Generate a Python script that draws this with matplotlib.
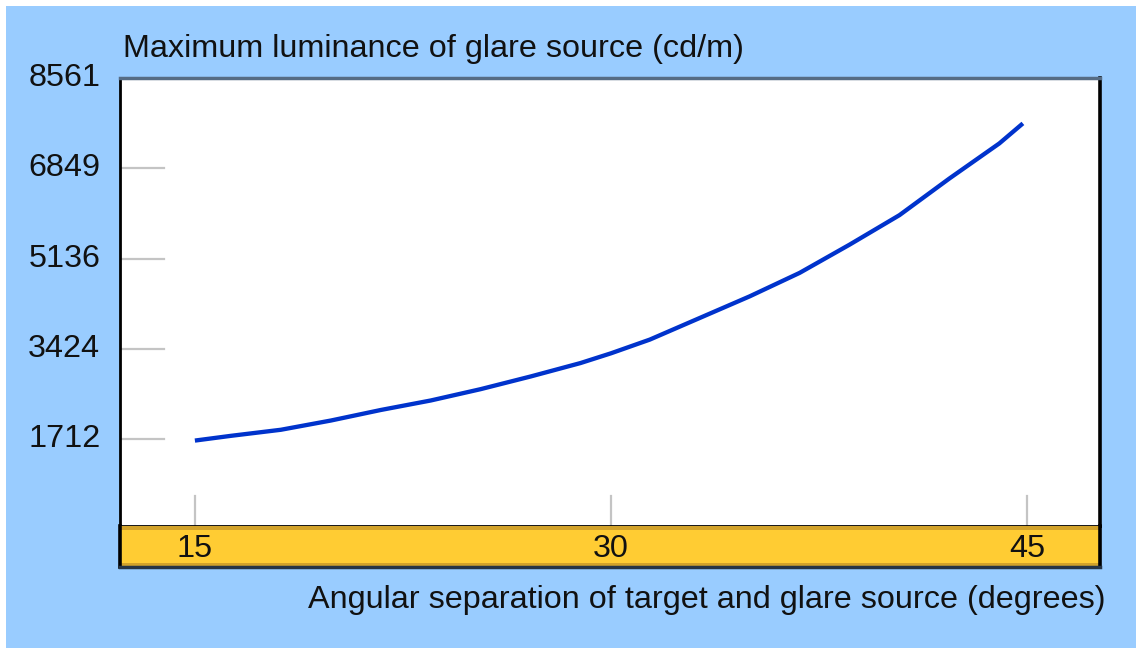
import matplotlib
matplotlib.use("Agg")
import matplotlib.pyplot as plt
from matplotlib.patches import Rectangle

# values
angles = [15.0, 16.3, 18.1, 19.9, 21.7, 23.5, 25.3, 27.1, 28.9, 30.0, 31.4,
          33.2, 35.0, 36.8, 38.6, 40.4, 42.2, 44.0, 44.85]
luminance = [1685, 1775, 1890, 2065, 2265, 2445, 2660, 2900, 3155, 3340, 3600,
             4010, 4420, 4865, 5400, 5960, 6655, 7320, 7700]
yticks = [1712, 3424, 5136, 6849, 8561]
xticks = [15, 30, 45]

W, H = 1136, 648
FS = 23.3
plt.rcParams['font.family'] = ['Liberation Sans', 'DejaVu Sans']

fig = plt.figure(figsize=(W / 100, H / 100), dpi=100, facecolor='#99ccff')
# thin white strips on the top and left edges
fig.patches.append(Rectangle((0, 0), 6 / W, 1, transform=fig.transFigure,
                             facecolor='white', edgecolor='none'))
fig.patches.append(Rectangle((0, 1 - 6 / H), 1, 6 / H, transform=fig.transFigure,
                             facecolor='white', edgecolor='none'))

# main plot area: x 120..1100, y 78..526 (pixels from top)
ax = fig.add_axes([120 / W, (H - 526) / H, 980 / W, 448 / H])
ax.set_facecolor('white')
ax.set_xlim(12.3, 47.63)
ax.set_ylim(65, 8561)

ax.plot(angles, luminance, color='#0033cc', lw=3.1, solid_capstyle='butt', zorder=3)

# short grey tick marks drawn inside the plot
for v in yticks:
    ax.plot([12.3, 13.9], [v, v], color='#c4c4c4', lw=1.6, zorder=2)
for v in xticks:
    ax.plot([v, v], [65, 640], color='#c4c4c4', lw=1.6, zorder=2)

ax.set_xticks([])
ax.set_yticks([])
ax.spines['top'].set_color('#566c84')
ax.spines['top'].set_linewidth(2.5)
for s in ['left', 'bottom']:
    ax.spines[s].set_color('black')
    ax.spines[s].set_linewidth(2.0)
ax.spines['right'].set_color('black')
ax.spines['right'].set_linewidth(2.6)

for v in yticks:
    ax.text(-0.02, v, str(v), transform=ax.get_yaxis_transform(), ha='right', va='center',
            fontsize=FS, color='#111111')

# yellow band holding the x tick labels: y 526..567
band = fig.add_axes([120 / W, (H - 567) / H, 980 / W, 41 / H])
band.set_facecolor('#ffcc33')
band.set_xlim(12.3, 47.63)
band.set_ylim(0, 1)
band.axhspan(0.9, 1.0, color='#d2a22a', lw=0)
band.axhspan(0.0, 0.1, color='#d2a22a', lw=0)
band.set_xticks([])
band.set_yticks([])
band.spines['top'].set_visible(False)
band.spines['bottom'].set_color('#263445')
band.spines['bottom'].set_linewidth(2.5)
for s in ['left', 'right']:
    band.spines[s].set_color('black')
    band.spines[s].set_linewidth(2.6)
for v in xticks:
    band.text(v, 0.45, str(v), ha='center', va='center', fontsize=FS, color='#111111')

fig.text(123 / W, 1 - 49 / H, 'Maximum luminance of glare source (cd/m)',
         ha='left', va='center', fontsize=FS, color='#111111')
fig.text(1105 / W, 1 - 600 / H, 'Angular separation of target and glare source (degrees)',
         ha='right', va='center', fontsize=FS, color='#111111')

fig.savefig('out.png', dpi=100, facecolor=fig.get_facecolor())
